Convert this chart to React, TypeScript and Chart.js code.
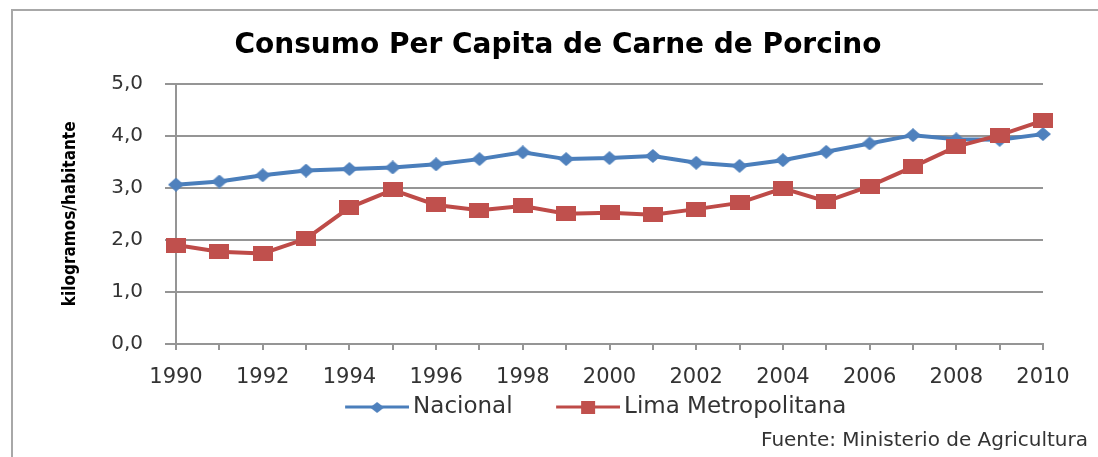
import React, { useEffect, useRef } from 'react';
import { Chart, registerables } from 'chart.js';

Chart.register(...registerables);

// ---- data ----
const YEARS = [
  '1990', '1991', '1992', '1993', '1994', '1995', '1996', '1997', '1998', '1999', '2000',
  '2001', '2002', '2003', '2004', '2005', '2006', '2007', '2008', '2009', '2010',
];
const NACIONAL = [
  3.06, 3.12, 3.24, 3.33, 3.36, 3.39, 3.45, 3.55, 3.68, 3.55, 3.57,
  3.61, 3.48, 3.42, 3.53, 3.69, 3.85, 4.01, 3.93, 3.92, 4.03,
];
const LIMA = [
  1.9, 1.77, 1.74, 2.02, 2.62, 2.96, 2.67, 2.57, 2.65, 2.5, 2.52,
  2.48, 2.59, 2.71, 2.99, 2.74, 3.03, 3.4, 3.79, 4.01, 4.29,
];
const SERIES_NAMES = ['Nacional', 'Lima Metropolitana'];
const Y_TICKS = [0, 1, 2, 3, 4, 5];
const TITLE = 'Consumo Per Capita de Carne de Porcino';
const Y_TITLE = 'kilogramos/habitante';
const SOURCE = 'Fuente: Ministerio de Agricultura';

// ---- style ----
const BLUE_LINE = '#4A7EBB';
const BLUE_MARK = '#4F81BD';
const RED_LINE = '#BE4B48';
const RED_MARK = '#C0504D';
const GRID = '#959595';
const TEXT = '#333333';
const LEGEND_SHIFT = 34;
const TITLE_SHIFT = 14;

function makeMarker(shape: string, color: string, w: number, h: number) {
  const c = document.createElement('canvas');
  c.width = w;
  c.height = h;
  const ctx = c.getContext('2d')!;
  ctx.fillStyle = color;
  if (shape === 'diamond') {
    ctx.beginPath();
    ctx.moveTo(w / 2, 0);
    ctx.lineTo(w, h / 2);
    ctx.lineTo(w / 2, h);
    ctx.lineTo(0, h / 2);
    ctx.closePath();
    ctx.fill();
  } else {
    ctx.fillRect(0, 0, w, h);
  }
  return c;
}

function makeLegendIcon(shape: string, markColor: string, lineColor: string, totalW: number, lineW: number, h: number, mw: number, mh: number) {
  const c = document.createElement('canvas');
  c.width = totalW;
  c.height = h;
  const ctx = c.getContext('2d')!;
  ctx.strokeStyle = lineColor;
  ctx.lineWidth = 3;
  ctx.beginPath();
  ctx.moveTo(totalW - lineW, h / 2);
  ctx.lineTo(totalW, h / 2);
  ctx.stroke();
  const m = makeMarker(shape, markColor, mw, mh);
  ctx.drawImage(m, Math.round(totalW - lineW / 2 - mw / 2), Math.round(h / 2 - mh / 2));
  return c;
}

const blockShift = {
  id: 'blockShift',
  afterLayout(chart: any) {
    const l = chart.legend;
    if (l) {
      l.left += LEGEND_SHIFT;
      l.right += LEGEND_SHIFT;
    }
    const t = chart.titleBlock;
    if (t) {
      t.left += TITLE_SHIFT;
      t.right += TITLE_SHIFT;
    }
  },
};

export default function App() {
  const canvasRef = useRef<HTMLCanvasElement | null>(null);

  useEffect(() => {
    if (!canvasRef.current) return;
    const diamond = makeMarker('diamond', BLUE_MARK, 16, 14);
    const square = makeMarker('square', RED_MARK, 20, 15);
    const legendIcons = [
      makeLegendIcon('diamond', BLUE_MARK, BLUE_LINE, 107, 64, 16, 14, 11),
      makeLegendIcon('square', RED_MARK, RED_LINE, 107, 64, 16, 14, 13),
    ];

    const chart = new Chart(canvasRef.current, {
      type: 'line',
      data: {
        labels: YEARS,
        datasets: [
          {
            label: SERIES_NAMES[0],
            data: NACIONAL,
            borderColor: BLUE_LINE,
            backgroundColor: BLUE_MARK,
            borderWidth: 4,
            pointStyle: diamond as any,
            pointRadius: 8,
            pointBorderWidth: 0,
            tension: 0,
            fill: false,
            clip: false as any,
            order: 1,
          },
          {
            label: SERIES_NAMES[1],
            data: LIMA,
            borderColor: RED_LINE,
            backgroundColor: RED_MARK,
            borderWidth: 4,
            pointStyle: square as any,
            pointRadius: 8,
            pointBorderWidth: 0,
            tension: 0,
            fill: false,
            clip: false as any,
            order: 0,
          },
        ],
      },
      options: {
        responsive: true,
        maintainAspectRatio: false,
        animation: false,
        events: [],
        layout: { padding: { left: 0, right: 10, top: 0, bottom: 0 } },
        scales: {
          x: {
            type: 'category',
            offset: false,
            afterFit: (s: any) => {
              s.height = 43.5;
            },
            grid: {
              display: true,
              drawOnChartArea: false,
              drawTicks: true,
              tickLength: 6,
              color: GRID,
              lineWidth: 2,
            },
            border: { display: true, color: GRID, width: 2 },
            ticks: {
              autoSkip: false,
              maxRotation: 0,
              minRotation: 0,
              padding: 15,
              color: TEXT,
              font: { family: "'DejaVu Sans', Verdana, sans-serif", size: 21 },
              callback: (_v: any, i: number) => (i % 2 === 0 ? YEARS[i] : ''),
            },
          },
          y: {
            type: 'linear',
            position: 'left',
            min: Y_TICKS[0],
            max: Y_TICKS[Y_TICKS.length - 1],
            afterFit: (s: any) => {
              s.width = 176;
            },
            grid: { color: GRID, lineWidth: 2, tickLength: 11 },
            border: { display: true, color: GRID, width: 2 },
            ticks: {
              stepSize: 1,
              padding: 22,
              color: TEXT,
              font: { family: "'DejaVu Sans', Verdana, sans-serif", size: 20 },
              callback: (v: any) => Number(v).toFixed(1).replace('.', ','),
            },
            title: {
              display: true,
              text: Y_TITLE,
              color: '#000',
              padding: { top: 60, bottom: 0 },
              font: { family: "'Liberation Sans Narrow', 'DejaVu Sans Condensed', sans-serif", size: 17, weight: 'bold' },
            },
          },
          yPad: {
            type: 'linear',
            position: 'right',
            display: true,
            afterFit: (s: any) => {
              s.width = 45;
            },
            grid: { display: false, drawTicks: false },
            border: { display: false },
            ticks: { display: false },
          },
        },
        plugins: {
          title: {
            display: true,
            text: TITLE,
            color: '#000',
            font: { family: "'DejaVu Sans', sans-serif", size: 28, weight: 'bold' },
            padding: { top: 29, bottom: 21 },
          },
          subtitle: {
            display: true,
            position: 'bottom',
            align: 'end',
            text: SOURCE,
            color: TEXT,
            font: { family: "'DejaVu Sans', Verdana, sans-serif", size: 20 },
            padding: { top: 0, bottom: 4.5 },
          },
          legend: {
            display: true,
            position: 'bottom',
            align: 'center',
            labels: {
              usePointStyle: true,
              pointStyleWidth: 92,
              padding: 8,
              color: TEXT,
              font: { family: "'DejaVu Sans', Verdana, sans-serif", size: 23 },
              generateLabels: (c: any) => {
                const items = (Chart.defaults as any).plugins.legend.labels.generateLabels(c);
                items.sort((a: any, b: any) => a.datasetIndex - b.datasetIndex);
                items.forEach((it: any) => {
                  it.pointStyle = legendIcons[it.datasetIndex];
                });
                return items;
              },
            },
          },
          tooltip: { enabled: false },
        },
      },
      plugins: [blockShift],
    });
    return () => chart.destroy();
  }, []);

  return (
    <div style={{ position: 'absolute', left: 0, top: 0, width: 1098, height: 457, overflow: 'hidden', background: '#fff' }}>
      <div
        style={{
          position: 'absolute',
          left: 11,
          top: 9,
          width: 1200,
          height: 600,
          borderLeft: '2px solid #a8a8a8',
          borderTop: '2px solid #a8a8a8',
          boxSizing: 'border-box',
        }}
      />
      <div style={{ position: 'absolute', left: 0, top: 0, width: 1098, height: 457 }}>
        <canvas ref={canvasRef} />
      </div>
    </div>
  );
}
